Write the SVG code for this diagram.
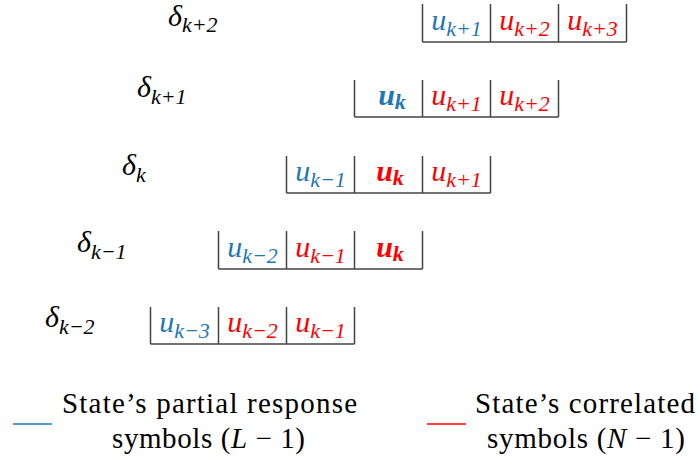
<svg xmlns="http://www.w3.org/2000/svg" width="699" height="459" viewBox="0 0 699 459">
<style>
.cell{fill:none;stroke:#444;stroke-width:1.5}
.m{font-family:'Liberation Serif','DejaVu Serif',serif;font-style:italic;font-size:30px}
.s{font-size:22px}
.b{fill:#1f77b4}
.r{fill:#ff0000}
.bd{font-weight:bold}
.k{fill:#000}
.lg{font-family:'Liberation Serif','DejaVu Serif',serif;font-size:29px;fill:#000}
</style>
<rect width="699" height="459" fill="#fff"/>
<g id="connectors"/>
<g id="row-k2">
<path class="cell" d="M422.5,4V42M490.5,4V42M558.5,4V42M626.5,4V42M422.5,42H626.5"/>
<text class="m k" x="168" y="26">δ<tspan class="s" dy="6">k+2</tspan></text>
<text class="m b" x="456.5" y="30" text-anchor="middle">u<tspan class="s" dy="6">k+1</tspan></text>
<text class="m r" x="524.5" y="30" text-anchor="middle">u<tspan class="s" dy="6">k+2</tspan></text>
<text class="m r" x="592.5" y="30" text-anchor="middle">u<tspan class="s" dy="6">k+3</tspan></text>
</g>
<g id="row-k1">
<path class="cell" d="M354.5,80V117M422.5,80V117M490.5,80V117M558.5,80V117M354.5,117H558.5"/>
<text class="m k" x="137" y="97">δ<tspan class="s" dy="7">k+1</tspan></text>
<text class="m b bd" x="392" y="105" text-anchor="middle">u<tspan class="s" dy="4">k</tspan></text>
<text class="m r" x="456.5" y="105" text-anchor="middle">u<tspan class="s" dy="6">k+1</tspan></text>
<text class="m r" x="524.5" y="105" text-anchor="middle">u<tspan class="s" dy="6">k+2</tspan></text>
</g>
<g id="row-k">
<path class="cell" d="M286.5,156V193M354.5,156V193M422.5,156V193M490.5,156V193M286.5,193H490.5"/>
<text class="m k" x="122" y="175">δ<tspan class="s" dy="7">k</tspan></text>
<text class="m b" x="320.5" y="181" text-anchor="middle">u<tspan class="s" dy="6">k−1</tspan></text>
<text class="m r bd" x="390" y="181" text-anchor="middle">u<tspan class="s" dy="4">k</tspan></text>
<text class="m r" x="456.5" y="181" text-anchor="middle">u<tspan class="s" dy="6">k+1</tspan></text>
</g>
<g id="row-km1">
<path class="cell" d="M218.5,231V269M286.5,231V269M354.5,231V269M422.5,231V269M218.5,269H422.5"/>
<text class="m k" x="77" y="252">δ<tspan class="s" dy="7">k−1</tspan></text>
<text class="m b" x="252.5" y="257" text-anchor="middle">u<tspan class="s" dy="6">k−2</tspan></text>
<text class="m r" x="320.5" y="257" text-anchor="middle">u<tspan class="s" dy="6">k−1</tspan></text>
<text class="m r bd" x="390" y="257" text-anchor="middle">u<tspan class="s" dy="4">k</tspan></text>
</g>
<g id="row-km2">
<path class="cell" d="M150.5,307V344M218.5,307V344M286.5,307V344M354.5,307V344M150.5,344H354.5"/>
<text class="m k" x="45" y="327">δ<tspan class="s" dy="7">k−2</tspan></text>
<text class="m b" x="184.5" y="332" text-anchor="middle">u<tspan class="s" dy="6">k−3</tspan></text>
<text class="m r" x="252.5" y="332" text-anchor="middle">u<tspan class="s" dy="6">k−2</tspan></text>
<text class="m r" x="320.5" y="332" text-anchor="middle">u<tspan class="s" dy="6">k−1</tspan></text>
</g>
<g id="legend-partial">
<line x1="13" y1="424" x2="52" y2="424" stroke="#1f77b4" stroke-width="1.5"/>
<text class="lg" x="209.5" y="413" text-anchor="middle" textLength="295" lengthAdjust="spacing">State’s partial response</text>
<text class="lg" x="208.5" y="448" text-anchor="middle" textLength="193" lengthAdjust="spacing">symbols (<tspan font-style="italic">L</tspan> − 1)</text>
</g>
<g id="legend-correlated">
<line x1="427" y1="424" x2="466" y2="424" stroke="#ff0000" stroke-width="1.5"/>
<text class="lg" x="585" y="413" text-anchor="middle" textLength="220" lengthAdjust="spacing">State’s correlated</text>
<text class="lg" x="586" y="448" text-anchor="middle" textLength="198" lengthAdjust="spacing">symbols (<tspan font-style="italic">N</tspan> − 1)</text>
</g>
</svg>
